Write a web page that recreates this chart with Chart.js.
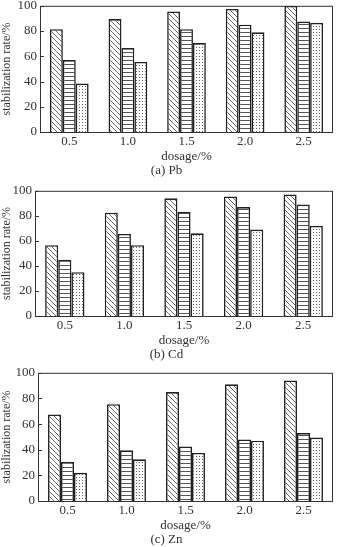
<!DOCTYPE html>
<html>
<head>
<meta charset="utf-8">
<script src="https://cdn.jsdelivr.net/npm/chart.js@4.4.1/dist/chart.umd.min.js"></script>
<style>
  body { margin: 0; background: #fff; width: 338px; height: 547px; overflow: hidden; position: relative; }
  .panel { position: absolute; left: 0; width: 338px; }
</style>
</head>
<body>
<div class="panel" style="top:-5px"><canvas id="chartA" width="338" height="184"></canvas></div>
<div class="panel" style="top:180px"><canvas id="chartB" width="338" height="183"></canvas></div>
<div class="panel" style="top:362px"><canvas id="chartC" width="338" height="186"></canvas></div>
<script>
// data
var dosage = ["0.5", "1.0", "1.5", "2.0", "2.5"];
var yTicks = [0, 20, 40, 60, 80, 100];

var pbS1 = [81.5, 89.5, 95.5, 97.5, 100];
var pbS2 = [57, 66.5, 81.5, 85, 87.5];
var pbS3 = [38.5, 55.5, 70.5, 79, 86.5];

var cdS1 = [56.5, 82.5, 94, 95.5, 97];
var cdS2 = [45, 65.5, 83, 87, 89];
var cdS3 = [35, 56.5, 66, 69, 72];

var znS1 = [67.5, 75.5, 85, 91, 94];
var znS2 = [30.5, 39.5, 42.5, 48, 53];
var znS3 = [22, 32.5, 37.5, 47, 49.5];

var serif = "'Liberation Serif', 'DejaVu Serif', serif";

function makePattern(kind) {
    var c = document.createElement("canvas");
    var ctx = c.getContext("2d");
    if (kind == "diag") {
        c.width = 5; c.height = 5;
        ctx.fillStyle = "#fff"; ctx.fillRect(0, 0, 5, 5);
        ctx.strokeStyle = "#444"; ctx.lineWidth = 0.8;
        ctx.beginPath();
        ctx.moveTo(-1, -1); ctx.lineTo(6, 6);
        ctx.moveTo(-1, 4); ctx.lineTo(1, 6);
        ctx.moveTo(4, -1); ctx.lineTo(6, 1);
        ctx.stroke();
    } else if (kind == "horiz") {
        c.width = 4; c.height = 4;
        ctx.fillStyle = "#fff"; ctx.fillRect(0, 0, 4, 4);
        ctx.fillStyle = "#555"; ctx.fillRect(0, 1, 4, 1);
    } else {
        c.width = 3; c.height = 3;
        ctx.fillStyle = "#fff"; ctx.fillRect(0, 0, 3, 3);
        ctx.fillStyle = "#666"; ctx.fillRect(1, 1, 1, 1);
    }
    return c.getContext("2d").createPattern(c, "repeat");
}

var framePlugin = {
    id: "frame",
    afterDatasetsDraw: function(chart) {
        var a = chart.chartArea, ctx = chart.ctx, y = chart.scales.y;
        ctx.save();
        ctx.strokeStyle = "#333";
        ctx.lineWidth = 1;
        ctx.strokeRect(a.left + 0.5, a.top + 0.5, a.right - a.left - 1, a.bottom - a.top);
        ctx.beginPath();
        yTicks.forEach(function(v) {
            var py = Math.round(y.getPixelForValue(v)) + 0.5;
            ctx.moveTo(a.left, py); ctx.lineTo(a.left + 4, py);
        });
        ctx.stroke();
        ctx.restore();
    }
};

function drawPanel(id, s1, s2, s3, caption, axisW, padTop) {
    var sets = [s1, s2, s3];
    var fills = [makePattern("diag"), makePattern("horiz"), makePattern("dots")];
    new Chart(id, {
        type: "bar",
        data: {
            labels: dosage,
            datasets: sets.map(function(d, i) {
                return {
                    data: d,
                    backgroundColor: fills[i],
                    borderColor: "#222",
                    borderWidth: 1.6,
                    borderSkipped: "bottom",
                    barPercentage: 1.0,
                    categoryPercentage: 0.66
                };
            })
        },
        options: {
            responsive: false,
            animation: false,
            layout: { padding: { top: padTop, right: 5, left: 0, bottom: 0 } },
            plugins: {
                legend: { display: false },
                tooltip: { enabled: false },
                subtitle: {
                    display: true,
                    position: "bottom",
                    text: caption,
                    color: "#333",
                    font: { family: serif, size: 13, lineHeight: 1.0, weight: "normal" },
                    padding: { top: 1, bottom: 2 }
                }
            },
            scales: {
                x: {
                    grid: { display: false, drawTicks: false },
                    border: { display: false },
                    ticks: { color: "#333", font: { family: serif, size: 13, lineHeight: 1.0 }, padding: 3 },
                    title: {
                        display: true,
                        text: "dosage/%",
                        color: "#333",
                        font: { family: serif, size: 13, lineHeight: 1.0 },
                        padding: { top: -1, bottom: 0 }
                    }
                },
                y: {
                    min: 0, max: 100,
                    afterFit: function(s) { s.width = axisW; },
                    grid: { display: false, drawTicks: false },
                    border: { display: false },
                    ticks: { stepSize: 20, color: "#333", font: { family: serif, size: 13 }, padding: 3 },
                    title: {
                        display: true,
                        text: "stabilization rate/%",
                        color: "#333",
                        font: { family: serif, size: 12 },
                        padding: { top: 0, bottom: 0 }
                    }
                }
            }
        },
        plugins: [framePlugin]
    });
}

drawPanel("chartA", pbS1, pbS2, pbS3, "(a) Pb", 40, 0);
drawPanel("chartB", cdS1, cdS2, cdS3, "(b) Cd", 35, 2);
drawPanel("chartC", znS1, znS2, znS3, "(c) Zn", 38, 5);
</script>
</body>
</html>
